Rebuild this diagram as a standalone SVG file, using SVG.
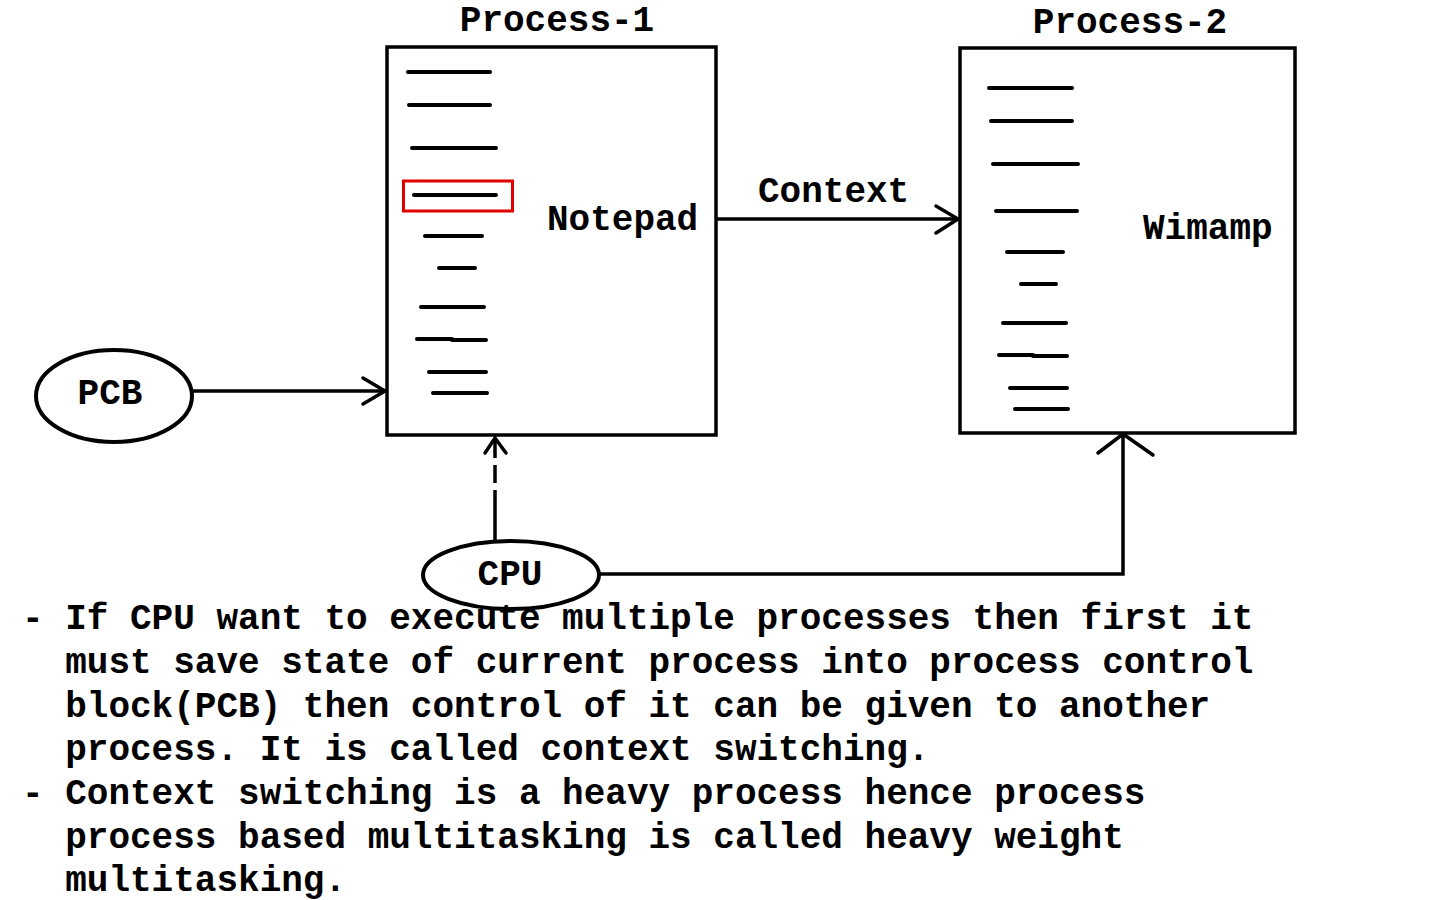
<svg xmlns="http://www.w3.org/2000/svg" width="1440" height="900" viewBox="0 0 1440 900">
<style>
text{font-family:"Liberation Mono","Courier New",monospace;font-weight:bold;font-size:36px;fill:#000}
.body{white-space:pre}
.box{fill:none;stroke:#000;stroke-width:3.5}
.ln{stroke:#000;stroke-width:4;stroke-linecap:round}
.ell{fill:#fff;stroke:#000;stroke-width:4}
.con{fill:none;stroke:#000;stroke-width:3.5}
.head{fill:none;stroke:#000;stroke-width:3.5;stroke-linecap:round;stroke-linejoin:miter}
</style>
<rect width="1440" height="900" fill="#fff"/>
<g id="process1">
<text x="557" y="31" text-anchor="middle">Process-1</text>
<rect class="box" x="387" y="47" width="329" height="388"/>
<line class="ln" x1="408" y1="72" x2="490" y2="72"/>
<line class="ln" x1="409" y1="105" x2="490" y2="105"/>
<line class="ln" x1="412" y1="148" x2="496" y2="148"/>
<line class="ln" x1="414" y1="195" x2="496" y2="195"/>
<line class="ln" x1="425" y1="236" x2="482" y2="236"/>
<line class="ln" x1="439" y1="268" x2="475" y2="268"/>
<line class="ln" x1="421" y1="307" x2="484" y2="307"/>
<line class="ln" x1="417" y1="339" x2="452" y2="339"/>
<line class="ln" x1="452" y1="340" x2="486" y2="340"/>
<line class="ln" x1="429" y1="372" x2="486" y2="372"/>
<line class="ln" x1="433" y1="393" x2="487" y2="393"/>
<rect x="403.5" y="181" width="109" height="30" fill="none" stroke="#e00000" stroke-width="3"/>
<text x="547" y="230">Notepad</text>
</g>
<g id="process2">
<text x="1130" y="33" text-anchor="middle">Process-2</text>
<rect class="box" x="960" y="48" width="335" height="385"/>
<line class="ln" x1="989" y1="88" x2="1072" y2="88"/>
<line class="ln" x1="991" y1="121" x2="1072" y2="121"/>
<line class="ln" x1="993" y1="164" x2="1078" y2="164"/>
<line class="ln" x1="996" y1="211" x2="1077" y2="211"/>
<line class="ln" x1="1007" y1="252" x2="1063" y2="252"/>
<line class="ln" x1="1021" y1="284" x2="1056" y2="284"/>
<line class="ln" x1="1003" y1="323" x2="1066" y2="323"/>
<line class="ln" x1="999" y1="355" x2="1033" y2="355"/>
<line class="ln" x1="1033" y1="356" x2="1067" y2="356"/>
<line class="ln" x1="1010" y1="388" x2="1067" y2="388"/>
<line class="ln" x1="1015" y1="409" x2="1068" y2="409"/>
<text x="1143" y="239">Wimamp</text>
</g>
<g id="connectors">
<line class="con" x1="193" y1="391" x2="385" y2="391"/>
<polyline class="head" points="363,378 385,391 363,404"/>
<line class="con" x1="716" y1="219" x2="958" y2="219"/>
<polyline class="head" points="936,206 958,219 936,233"/>
<text x="758" y="202">Context</text>
<line class="con" x1="495" y1="541" x2="495" y2="508"/>
<line class="con" x1="495" y1="508" x2="495" y2="438" stroke-dasharray="18 7" stroke-width="4"/>
<polyline class="head" points="485,453 495,438 506,453"/>
<polyline class="con" points="600,574 1123,574 1123,434"/>
<polyline class="head" points="1098,453 1123,434 1153,455"/>
</g>
<g id="pcb">
<ellipse class="ell" cx="114" cy="396" rx="78" ry="46"/>
<text x="110" y="404" text-anchor="middle">PCB</text>
</g>
<g id="cpu">
<ellipse class="ell" cx="511" cy="575" rx="88" ry="34"/>
<text x="510" y="585" text-anchor="middle">CPU</text>
</g>
<g id="notes">
<text class="body" x="22" y="629">- If CPU want to execute multiple processes then first it</text>
<text class="body" x="22" y="673">  must save state of current process into process control</text>
<text class="body" x="22" y="717">  block(PCB) then control of it can be given to another</text>
<text class="body" x="22" y="760">  process. It is called context switching.</text>
<text class="body" x="22" y="804">- Context switching is a heavy process hence process</text>
<text class="body" x="22" y="848">  process based multitasking is called heavy weight</text>
<text class="body" x="22" y="891">  multitasking.</text>
</g>
</svg>
